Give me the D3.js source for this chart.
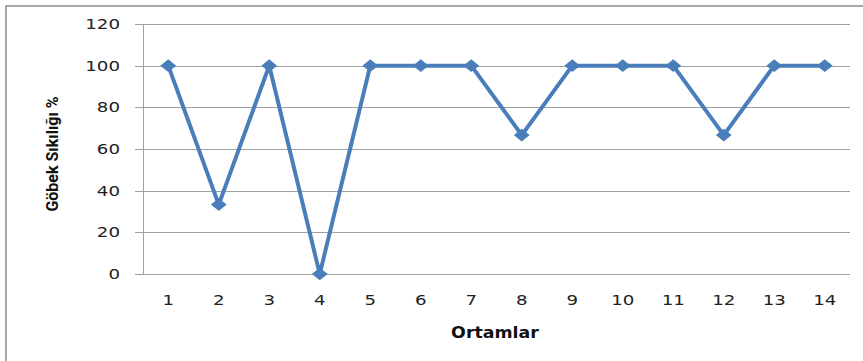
<!DOCTYPE html>
<html><head><meta charset="utf-8">
<script src="https://cdn.jsdelivr.net/npm/d3@7"></script>
<style>
html,body{margin:0;padding:0;background:#fff;}
svg{display:block;}
</style></head>
<body>
<svg id="chart" width="863" height="361"></svg>
<script>
const categories = ["1","2","3","4","5","6","7","8","9","10","11","12","13","14"];
const values = [100, 33.33, 100, 0, 100, 100, 100, 66.67, 100, 100, 100, 66.67, 100, 100];
const yTicks = [0, 20, 40, 60, 80, 100, 120];
const xTitle = "Ortamlar";
const yTitle = "Göbek Sıkılığı %";

(function () {
const svg = d3.select("#chart");
const pLeft = 143, pRight = 850, pTop = 24, pBottom = 274;
const sx = 1.3;

// outer border
svg.append("rect").attr("x", 6).attr("y", 6).attr("width", 900).attr("height", 400)
  .attr("fill", "none").attr("stroke", "#8c8c8c").attr("stroke-width", 1.5);

const x = d3.scaleBand().domain(categories).range([pLeft, pRight]);
const y = d3.scaleLinear().domain([0, 120]).range([pBottom, pTop]);

// gridlines
svg.append("g").selectAll("line").data(yTicks).join("line")
  .attr("x1", pLeft - 8).attr("x2", pRight)
  .attr("y1", d => Math.round(y(d)) + 0.5).attr("y2", d => Math.round(y(d)) + 0.5)
  .attr("stroke", "#a0a0a0").attr("stroke-width", 1);

// y axis line
svg.append("line").attr("x1", pLeft + 0.5).attr("x2", pLeft + 0.5)
  .attr("y1", y(120)).attr("y2", y(0)).attr("stroke", "#a0a0a0");

// y labels
svg.append("g").selectAll("text").data(yTicks).join("text")
  .attr("transform", d => `translate(120,${y(d)}) scale(${sx},1)`)
  .attr("dy", "0.36em")
  .attr("text-anchor", "end")
  .attr("font-family", "DejaVu Sans").attr("font-size", 14)
  .attr("fill", "#222")
  .text(d => d);

// x labels
svg.append("g").selectAll("text").data(categories).join("text")
  .attr("transform", d => `translate(${x(d) + x.bandwidth() / 2},300) scale(${sx},1)`)
  .attr("dy", "0.36em")
  .attr("text-anchor", "middle")
  .attr("font-family", "DejaVu Sans").attr("font-size", 14)
  .attr("fill", "#222")
  .text(d => d);

// x title
svg.append("text").attr("transform", "translate(495,333) scale(1.16,1)")
  .attr("dy", "0.36em")
  .attr("text-anchor", "middle")
  .attr("font-family", "DejaVu Sans").attr("font-weight", "bold").attr("font-size", 15)
  .attr("fill", "#111")
  .text(xTitle);

// y title
svg.append("text").attr("transform", "translate(52,154) rotate(-90)")
  .attr("dy", "0.36em").attr("text-anchor", "middle")
  .attr("font-family", "Liberation Sans Narrow, Roboto, sans-serif").attr("font-weight", "bold")
  .attr("font-size", 16).attr("fill", "#111")
  .text(yTitle);

const cx = d => x(d) + x.bandwidth() / 2;
const pts = categories.map((c, i) => [cx(c), y(values[i])]);

svg.append("path").attr("d", d3.line()(pts))
  .attr("fill", "none").attr("stroke", "#4a7ebb").attr("stroke-width", 4)
  .attr("stroke-linejoin", "round");

svg.append("g").selectAll("path").data(pts).join("path")
  .attr("d", d3.symbol().type(d3.symbolSquare).size(80))
  .attr("transform", d => `translate(${d[0]},${d[1]}) scale(1.25,1) rotate(45)`)
  .attr("fill", "#4a7ebb");
})();
</script>
</body></html>
